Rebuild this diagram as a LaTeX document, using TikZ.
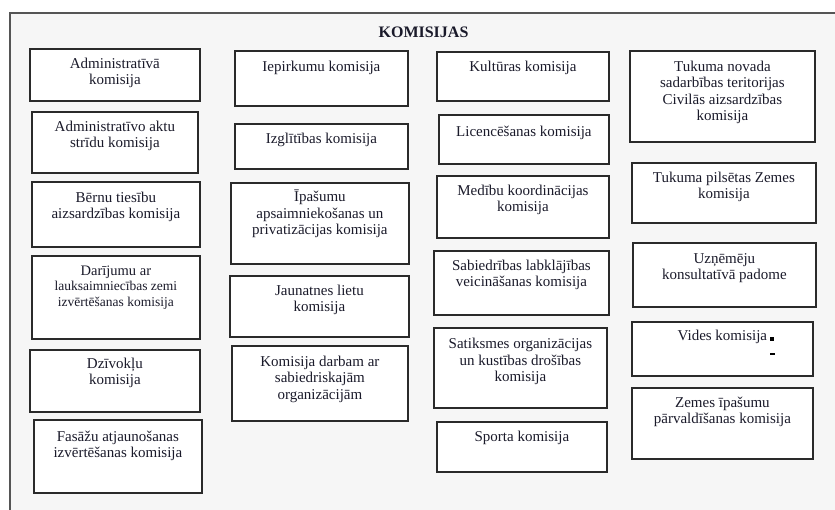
\documentclass[tikz,border=0pt]{standalone}
\usepackage{fontspec}
\setmainfont{Liberation Serif}
\definecolor{framegray}{HTML}{555555}
\definecolor{panelbg}{HTML}{F6F6F6}
\definecolor{boxline}{HTML}{2A2A2A}
\definecolor{textcol}{HTML}{1A1A2A}
\tikzset{
  kbox/.style={draw=boxline, line width=1.8pt, fill=white, rectangle, inner sep=0pt},
  ktext/.style={inner sep=0pt, text=textcol, font=\fontsize{15}{16.5}\selectfont},
  ktitle/.style={inner sep=0pt, text=textcol, font=\fontsize{16}{18}\selectfont\bfseries},
}
% name, x1, y1, x2, y2, baseline offset, text
\newcommand\kbox[7]{%
  \node[kbox, anchor=north west, minimum width={#4pt-#2pt}, minimum height={#5pt-#3pt}] (#1) at (#2,#3) {};
  \node[ktext, anchor=base] (#1t) at ([yshift=-#6pt]#1.north) {\parbox[t]{220pt}{\centering #7}};
}
\begin{document}
\begin{tikzpicture}[x=1pt, y=-1pt]
\useasboundingbox (0,0) rectangle (835,509);
\fill[white] (0,0) rectangle (835,509);
\fill[panelbg] (10,13) rectangle (840,515);
\draw[framegray, line width=2.4pt] (10,515) -- (10,13) -- (840,13);
\node[ktitle, anchor=base] (title) at (423.5,37) {KOMISIJAS};
% column 1
\kbox{a1}{29}{48}{199}{100}{20}{Administratīvā\\komisija}
\kbox{a2}{31}{111}{197}{172}{20}{Administratīvo aktu\\strīdu komisija}
\kbox{a3}{31}{181}{199}{246}{21}{Bērnu tiesību\\aizsardzības komisija}
\kbox{a4}{31}{255}{199}{338}{20}{\fontsize{14.5}{15.5}\selectfont Darījumu ar\\\fontsize{13.5}{15.5}\selectfont lauksaimniecības zemi\\izvērtēšanas komisija}
\kbox{a5}{29}{349}{199}{411}{19}{Dzīvokļu\\komisija}
\kbox{a6}{33}{419}{201}{492}{22}{Fasāžu atjaunošanas\\izvērtēšanas komisija}
% column 2
\kbox{b1}{234}{50}{407}{105}{21}{Iepirkumu komisija}
\kbox{b2}{234}{123}{407}{168}{20}{Izglītības komisija}
\kbox{b3}{230}{182}{408}{263}{19.5}{Īpašumu\\apsaimniekošanas un\\privatizācijas komisija}
\kbox{b4}{229}{275}{408}{336}{20}{Jaunatnes lietu\\komisija}
\kbox{b5}{231}{345}{407}{420}{21}{Komisija darbam ar\\sabiedriskajām\\organizācijām}
% column 3
\kbox{c1}{436}{51}{608}{100}{20}{Kultūras komisija}
\kbox{c2}{438}{114}{608}{163}{22}{Licencēšanas komisija}
\kbox{c3}{436}{175}{608}{237}{20}{Medību koordinācijas\\komisija}
\kbox{c4}{433}{250}{608}{314}{20}{Sabiedrības labklājības\\veicināšanas komisija}
\kbox{c5}{433}{327}{606}{407}{21.5}{Satiksmes organizācijas\\un kustības drošības\\komisija}
\kbox{c6}{436}{421}{606}{471}{20}{Sporta komisija}
% column 4
\kbox{d1}{629}{50}{814}{141}{21}{Tukuma novada\\sadarbības teritorijas\\Civilās aizsardzības\\komisija}
\kbox{d2}{631}{162}{815}{222}{20}{Tukuma pilsētas Zemes\\komisija}
\kbox{d3}{632}{242}{815}{306}{21}{Uzņēmēju\\konsultatīvā padome}
\kbox{d4}{631}{321}{812}{375}{19}{Vides komisija}
\kbox{d5}{631}{387}{812}{458}{20}{Zemes īpašumu\\pārvaldīšanas komisija}
% small marks in the Vides box
\fill[black] (770,337) rectangle (774,340.5);
\fill[black] (770,353) rectangle (775,355);
\end{tikzpicture}
\end{document}
